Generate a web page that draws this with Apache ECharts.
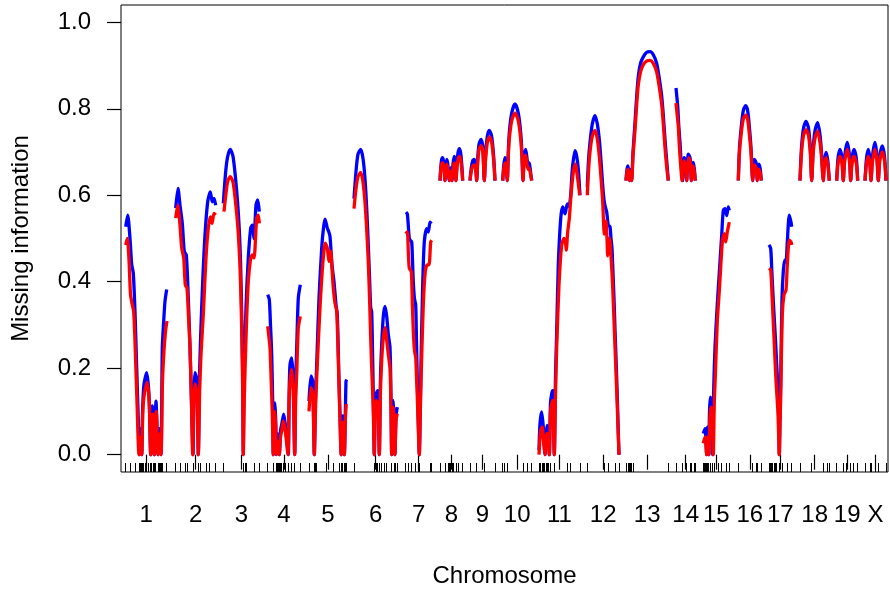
<!DOCTYPE html>
<html>
<head>
<meta charset="utf-8">
<script src="https://cdn.jsdelivr.net/npm/echarts@6/dist/echarts.min.js"></script>
<style>
html,body{margin:0;padding:0;background:#fff;}
#chart{width:890px;height:593px;}
</style>
</head>
<body>
<div id="chart"></div>
<script>
// Chromosome names and label positions (map units)
const chromNames = ["1","2","3","4","5","6","7","8","9","10","11","12","13","14","15","16","17","18","19","X"];
const chromCenters = [146.2,195.7,241.3,284,327.8,375.7,418.7,451.3,482.5,517.2,559.5,603.2,647.2,685.7,716.3,749.8,780.3,814.7,847.2,875.5];

// Marker positions (rug)
const markerPos = [
  125.7,130.7,135,139.3,140.3,141.7,142.5,143.3,145,146.7,148.3,150.7,151.7,153.3,154.3,155.7,158,159.3,160.3,161,162.7,166.7,
  175.7,180,185,187.3,193,198.3,200,206,209.3,215.7,
  223.3,243.3,245,246.7,254,259.3,
  267.7,273.3,276.3,277.7,278.7,279.7,280.7,281.7,283.3,285,288,291.7,294.7,300.3,
  309,314.3,315.5,316.7,326.7,333.3,339.3,341.7,342.3,344,345,346.7,
  354,374.3,376,377.3,379.3,381.7,384,386,391.7,394,395,397.3,
  405.7,408.3,411.7,415,418.3,419.3,430,431.7,
  440,445,448.3,449.3,450.7,452,453.3,456,458.3,462.7,
  470,476.7,484.3,495,
  502.7,504,507.3,523,527.3,531.7,
  539.3,540.7,542,543.3,544.7,546,547.3,548.7,550,554.3,567.3,570.7,580,
  587.3,604,608.3,615,619,
  626,628.3,629.5,630.7,631.7,633.3,668.3,
  676,682.7,686.7,690,691.3,694,695.3,
  703.3,704.3,705.3,706.7,707.3,708.7,710,712.7,714,718.3,721.7,726.7,729.3,
  738.3,752.7,756.7,757.3,761.3,
  769,770,771.3,772.7,774,775.3,776.7,779.3,782.7,787.7,791.7,
  800,811.7,823.3,827.3,829.3,
  836.7,843.3,846.7,850.7,853.3,857.7,
  865,870.7,871,875.7,878.3,886
];

// Missing information, entropy (blue), per chromosome: [position, value]
const entropyByChr = [
  [[125.7,0.527],[127.7,0.554],[130,0.50],[131.7,0.44],[133.3,0.42],[135,0.33],[136.7,0.2],[138.3,0.08],[139.3,0],[140.3,0.06],[141.7,0],[142.7,0.11],[144,0.163],[146.7,0.19],[148.7,0.15],[149.7,0.09],[150.7,0],[152.3,0.113],[154.3,0],[156,0.124],[158,0],[159.3,0.06],[161,0],[162.3,0.247],[163.7,0.309],[165,0.355],[166.7,0.382]],
  [[175.7,0.57],[178,0.616],[180,0.577],[182.3,0.535],[184.3,0.47],[186.3,0.462],[188,0.38],[190,0.25],[191.5,0.12],[193,0],[194,0.15],[195,0.19],[197,0.17],[198.3,0],[199.5,0.18],[200.7,0.278],[202.7,0.40],[205,0.508],[207.7,0.585],[210.3,0.608],[212.3,0.585],[214,0.593],[215.7,0.577]],
  [[223.3,0.581],[225.7,0.655],[227.7,0.69],[230.3,0.706],[233,0.69],[235.5,0.64],[237.7,0.58],[239.3,0.52],[240.5,0.45],[241.7,0.33],[242.7,0.18],[243.3,0],[244,0.17],[246,0.34],[248.3,0.455],[250.7,0.524],[252.3,0.531],[254,0.50],[256,0.577],[257.7,0.589],[259.3,0.562]],
  [[267.7,0.37],[269.3,0.359],[270.5,0.3],[271.7,0.232],[272.7,0.12],[273.3,0],[274.2,0.1],[275,0.12],[275.7,0.08],[276.3,0],[277.7,0.048],[279.3,0],[280.5,0.055],[281.7,0.07],[283.7,0.094],[285.3,0.07],[286.5,0.04],[288.3,0],[289.2,0.15],[290,0.209],[291.7,0.224],[293.3,0.17],[294.7,0],[295.7,0.17],[296.7,0.247],[298.3,0.362],[300.3,0.393]],
  [[309,0.124],[311,0.182],[312.7,0.17],[313.5,0.1],[314.3,0],[315.5,0.13],[316.7,0.209],[319,0.362],[321.7,0.478],[323.5,0.525],[325,0.545],[327.3,0.524],[328.7,0.516],[330,0.505],[332,0.439],[334,0.40],[336,0.347],[337.3,0.324],[339,0.17],[340,0.094],[341.2,0],[342.7,0.09],[344.3,0],[346,0.17],[346.7,0.174]],
  [[354,0.592],[356,0.655],[358,0.695],[360.7,0.706],[363,0.685],[365,0.638],[366.7,0.57],[368.3,0.485],[369.7,0.4],[370.7,0.34],[371.7,0.33],[372.7,0.217],[373.5,0.11],[374.3,0],[375.2,0.11],[376,0.14],[377.7,0.148],[378.6,0.09],[379.3,0],[380.5,0.18],[381.7,0.255],[383.3,0.32],[385,0.343],[386.7,0.32],[388.3,0.278],[390,0.248],[390.9,0.15],[391.7,0],[392.5,0.1],[393.3,0.125],[394.2,0.08],[395,0],[396,0.09],[397.3,0.11]],
  [[406,0.561],[407.3,0.557],[408.3,0.53],[409.3,0.50],[410.5,0.495],[411.7,0.492],[412.5,0.45],[413.3,0.40],[414.5,0.36],[415.7,0.347],[416.5,0.26],[417.3,0.171],[418.3,0.08],[419.3,0],[420.2,0.1],[421,0.21],[422.7,0.393],[424.3,0.492],[426.7,0.523],[428.3,0.515],[430,0.538],[431.3,0.534]],
  [[440,0.634],[440.8,0.665],[441.6,0.682],[442.7,0.687],[443.8,0.675],[445,0.634],[445.8,0.665],[446.8,0.683],[447.8,0.672],[449.3,0.634],[450,0.652],[451,0.664],[451.6,0.655],[452,0.634],[453,0.672],[454.3,0.69],[455.3,0.675],[456,0.634],[457,0.675],[458,0.698],[459.3,0.708],[460.7,0.698],[461.8,0.67],[462.7,0.634]],
  [[470,0.634],[471.2,0.662],[472.7,0.68],[474.3,0.683],[475.7,0.668],[476.7,0.634],[477.7,0.685],[479,0.718],[481,0.729],[482.8,0.714],[484.3,0.634],[485.5,0.69],[487.2,0.735],[489.3,0.75],[491.5,0.738],[493.5,0.695],[495,0.634]],
  [[502.7,0.634],[503.8,0.67],[505,0.687],[506.2,0.672],[507.3,0.634],[508.3,0.7],[509.3,0.745],[511.7,0.79],[515,0.811],[518.3,0.79],[520.7,0.745],[521.9,0.7],[523,0.634],[524,0.685],[525.7,0.706],[527.3,0.68],[528.3,0.672],[529.3,0.675],[530.5,0.655],[531.7,0.634]],
  [[539,0.01],[540,0.072],[541.7,0.099],[543.3,0.064],[545,0],[546.2,0.05],[547.3,0.068],[548.4,0.04],[549.3,0],[550.5,0.12],[551.7,0.141],[552.7,0.148],[553.5,0.08],[554.3,0],[555.5,0.18],[556.7,0.286],[558.3,0.439],[560.7,0.546],[562.7,0.573],[565,0.557],[567.3,0.58],[569,0.575],[570.7,0.6],[572.3,0.66],[575,0.703],[576.7,0.69],[578.3,0.66],[580,0.60]],
  [[587.3,0.619],[588.5,0.68],[590,0.722],[592.3,0.765],[595,0.784],[597.3,0.765],[599.3,0.729],[601,0.68],[602.7,0.622],[604,0.59],[605,0.576],[606.7,0.561],[607.7,0.54],[608.3,0.531],[610,0.527],[611,0.5],[612,0.477],[613,0.42],[614,0.362],[615,0.29],[616,0.225],[617.3,0.133],[618.2,0.06],[619,0]],
  [[626,0.634],[627,0.66],[628,0.668],[628.8,0.655],[629.5,0.634],[630.2,0.655],[631,0.66],[631.7,0.634],[633,0.7],[635,0.768],[636.7,0.83],[638.3,0.875],[640.5,0.905],[643.3,0.92],[646.5,0.93],[650,0.932],[653.3,0.925],[656.7,0.905],[659.3,0.87],[661.7,0.829],[663.3,0.785],[665,0.729],[666.7,0.68],[668.3,0.634]],
  [[676,0.848],[677.7,0.806],[678.8,0.76],[680,0.722],[681,0.68],[681.7,0.653],[682.7,0.634],[683.3,0.67],[684,0.687],[685.3,0.68],[686,0.665],[686.7,0.634],[687.4,0.67],[688.3,0.695],[690,0.687],[690.7,0.665],[691.3,0.634],[692.2,0.665],[693.3,0.676],[694.4,0.66],[695.3,0.634]],
  [[703.3,0.049],[705,0.06],[706,0.03],[706.7,0],[707.3,0.064],[708,0.04],[708.7,0],[709.5,0.1],[710.3,0.133],[711.3,0.125],[712,0.08],[712.7,0],[713.8,0.16],[715,0.248],[716.7,0.324],[718.3,0.385],[720,0.446],[721.7,0.508],[723.3,0.565],[725,0.569],[726.7,0.553],[728.3,0.573],[729.3,0.565]],
  [[738.3,0.634],[739.5,0.71],[741.7,0.768],[743.5,0.798],[745.7,0.807],[747.7,0.795],[749.3,0.76],[751,0.71],[752.7,0.634],[753.5,0.668],[754.3,0.683],[755.2,0.68],[756,0.676],[756.7,0.66],[757.3,0.634],[758.2,0.66],[759,0.672],[760.3,0.66],[761.3,0.634]],
  [[769,0.485],[770.7,0.477],[771.7,0.431],[773.3,0.355],[775,0.286],[776.7,0.209],[778,0.148],[778.8,0.07],[779.3,0],[780,0.09],[780.7,0.171],[782,0.362],[783.3,0.424],[784.7,0.45],[786,0.446],[787.3,0.492],[789.3,0.554],[791,0.538],[791.7,0.527]],
  [[800,0.634],[801.5,0.71],[803.5,0.755],[806,0.771],[808.5,0.755],[810.3,0.71],[811.7,0.634],[813.2,0.71],[815.3,0.753],[817.7,0.768],[820,0.74],[821.5,0.7],[823.3,0.634],[824.3,0.675],[826,0.699],[827.8,0.68],[829.3,0.634]],
  [[836.7,0.634],[838,0.685],[840,0.706],[842,0.685],[843.3,0.634],[844.7,0.69],[847.3,0.722],[849.5,0.69],[850.7,0.634],[852,0.685],[854,0.706],[856.3,0.685],[857.7,0.634]],
  [[865,0.634],[866.5,0.685],[868.3,0.706],[869.8,0.685],[871,0.634],[872.5,0.69],[875,0.722],[877,0.69],[878.3,0.634],[879.8,0.69],[882.3,0.714],[884.5,0.69],[886,0.634]]
];

// Missing information, variance (red), per chromosome: [position, value]
const varianceByChr = [
  [[125.7,0.485],[127.3,0.50],[129,0.45],[130.5,0.37],[132,0.35],[133.7,0.33],[135.3,0.24],[137,0.12],[139,0],[140.3,0.04],[141.7,0],[142.8,0.1],[144.3,0.14],[147.3,0.167],[149.3,0.117],[150.7,0],[152.7,0.094],[154.3,0],[156.3,0.10],[158,0],[159.3,0.048],[161,0],[162.5,0.17],[164,0.24],[165.5,0.285],[167,0.309]],
  [[175.7,0.547],[177.7,0.577],[179.7,0.539],[181.7,0.478],[183.7,0.455],[185.3,0.393],[187,0.385],[188.5,0.32],[190,0.247],[191.5,0.12],[192.7,0],[194,0.13],[195,0.163],[197,0.14],[198.3,0],[199.7,0.15],[201,0.232],[203.3,0.324],[206,0.455],[208.3,0.524],[210.3,0.55],[212,0.535],[214,0.558],[215.7,0.554]],
  [[224,0.562],[226,0.605],[228,0.635],[230.3,0.643],[233,0.63],[235.5,0.585],[237.7,0.53],[239.3,0.47],[240.5,0.4],[241.7,0.29],[242.7,0.15],[243.3,0],[244.3,0.13],[246.3,0.29],[248.3,0.4],[250.7,0.455],[252.3,0.462],[254,0.455],[256.7,0.547],[258.3,0.554],[259.3,0.535]],
  [[267.7,0.297],[269,0.27],[270,0.247],[271.2,0.17],[272.3,0.094],[273.3,0],[274.2,0.08],[275,0.10],[275.8,0.06],[276.3,0],[278,0.03],[279.3,0],[280.5,0.04],[281.7,0.055],[283.3,0.078],[285.3,0.055],[286.5,0.03],[288,0],[289,0.12],[290,0.17],[291.7,0.197],[293.3,0.14],[294.7,0],[295.7,0.13],[296.7,0.186],[298.3,0.293],[300.3,0.32]],
  [[309,0.10],[311,0.155],[312.7,0.14],[313.5,0.08],[314.3,0],[315.7,0.12],[317.3,0.209],[320,0.339],[322.7,0.439],[325.3,0.489],[327.3,0.478],[329,0.447],[330.7,0.47],[332,0.43],[333.3,0.385],[335,0.35],[336.7,0.332],[338.3,0.22],[340,0.078],[341.2,0],[342.7,0.075],[344.3,0],[345.5,0.09],[346.3,0.117]],
  [[354,0.569],[356,0.615],[358,0.643],[360.7,0.653],[363,0.63],[365,0.584],[366.7,0.52],[368.3,0.446],[369.7,0.35],[370.7,0.27],[371.7,0.2],[372.7,0.14],[373.5,0.08],[374.3,0],[375.2,0.1],[376,0.125],[377.7,0.12],[378.6,0.07],[379.3,0],[380.5,0.15],[381.7,0.217],[383.3,0.27],[385,0.294],[386.7,0.265],[388.3,0.232],[390,0.2],[390.9,0.12],[391.7,0],[392.5,0.09],[393.3,0.11],[394.2,0.06],[395,0],[396,0.08],[397.3,0.095]],
  [[405.7,0.511],[407.3,0.515],[408.3,0.47],[409.3,0.431],[411.3,0.424],[412.3,0.35],[413.3,0.286],[414.5,0.24],[415.7,0.225],[416.5,0.18],[417.3,0.133],[418.3,0.06],[419.3,0],[420.3,0.1],[421.3,0.194],[423.3,0.347],[425.3,0.424],[427.3,0.439],[429,0.439],[430.7,0.492],[431.7,0.496]],
  [[440,0.634],[440.8,0.66],[441.6,0.672],[442.7,0.675],[443.8,0.665],[445,0.634],[445.8,0.658],[446.8,0.672],[447.8,0.662],[449.3,0.634],[450,0.648],[451,0.655],[451.6,0.648],[452,0.634],[453,0.662],[454.3,0.675],[455.3,0.664],[456,0.634],[457,0.665],[458,0.682],[459.3,0.69],[460.7,0.682],[461.8,0.66],[462.7,0.634]],
  [[470,0.634],[471.2,0.655],[472.7,0.668],[474.3,0.67],[475.7,0.658],[476.7,0.634],[477.7,0.675],[479,0.705],[481,0.715],[482.8,0.702],[484.3,0.634],[485.5,0.68],[487.2,0.72],[489.3,0.735],[491.5,0.724],[493.5,0.685],[495,0.634]],
  [[502.7,0.634],[503.8,0.662],[505,0.675],[506.2,0.662],[507.3,0.634],[508.3,0.69],[509.3,0.73],[511.7,0.772],[515,0.79],[518.3,0.772],[520.7,0.73],[521.9,0.69],[523,0.634],[524.2,0.678],[525.7,0.693],[527.3,0.668],[528.3,0.66],[529.3,0.662],[530.5,0.648],[531.7,0.634]],
  [[539,0],[540.7,0.057],[542.3,0.064],[543.7,0.026],[545,0],[546.2,0.04],[547.3,0.049],[548.4,0.03],[549.3,0],[550.5,0.1],[551.7,0.118],[552.7,0.125],[553.5,0.06],[554.3,0],[555.5,0.14],[556.7,0.248],[559,0.393],[561.7,0.485],[564,0.50],[565.5,0.49],[566.3,0.473],[567.7,0.515],[569.3,0.546],[571,0.60],[573.3,0.653],[575.3,0.672],[577.7,0.638],[579.7,0.60]],
  [[587.3,0.60],[588.5,0.655],[590,0.70],[592.3,0.737],[595,0.75],[597.3,0.73],[599.3,0.69],[601,0.64],[602.7,0.585],[603.5,0.54],[604.3,0.51],[605,0.53],[606,0.54],[607,0.5],[607.7,0.46],[608.5,0.48],[609.3,0.50],[610.2,0.49],[611,0.46],[612,0.42],[613,0.37],[614,0.31],[615,0.25],[616,0.19],[617.3,0.11],[618.2,0.05],[619,0]],
  [[626,0.634],[627,0.655],[628,0.66],[628.8,0.65],[629.5,0.634],[630.2,0.65],[631,0.655],[631.7,0.634],[633,0.69],[635,0.75],[636.7,0.81],[638.3,0.855],[640.5,0.885],[643.3,0.902],[646.5,0.91],[650,0.912],[653.3,0.905],[656.7,0.885],[659.3,0.85],[661.7,0.81],[663.3,0.765],[665,0.71],[666.7,0.665],[668.3,0.634]],
  [[676,0.813],[677.2,0.785],[678.3,0.76],[679.2,0.72],[680,0.69],[681,0.66],[682,0.634],[683,0.665],[684,0.68],[685.3,0.668],[686,0.655],[686.7,0.634],[687.5,0.665],[688.7,0.687],[690.3,0.676],[690.9,0.655],[691.3,0.634],[692.2,0.658],[693.3,0.668],[694.4,0.652],[695.3,0.634]],
  [[703.3,0.026],[705,0.041],[706.7,0],[708,0.041],[709,0],[709.8,0.08],[710.7,0.11],[712,0.102],[712.7,0.05],[713.3,0],[714.3,0.12],[715.3,0.179],[717.3,0.309],[719.3,0.378],[721,0.446],[722.7,0.50],[724.3,0.511],[725.7,0.492],[727.3,0.515],[729.3,0.538]],
  [[738.3,0.634],[739.5,0.7],[741.7,0.752],[743.5,0.778],[745.7,0.785],[747.7,0.775],[749.3,0.742],[751,0.7],[752.7,0.634],[753.5,0.658],[754.3,0.67],[755.2,0.668],[756,0.664],[756.7,0.65],[757.3,0.634],[758.2,0.652],[759,0.66],[760.3,0.65],[761.3,0.634]],
  [[769,0.431],[770.7,0.427],[772,0.37],[774,0.27],[776,0.171],[778,0.095],[779.3,0],[780,0.07],[780.7,0.133],[782.3,0.324],[784,0.37],[786,0.381],[787.3,0.439],[789.3,0.496],[791,0.492],[791.7,0.485]],
  [[800,0.634],[801.5,0.698],[803.5,0.738],[806,0.752],[808.5,0.738],[810.3,0.698],[811.7,0.634],[813.2,0.698],[815.3,0.735],[817.7,0.748],[820,0.722],[821.5,0.688],[823.3,0.634],[824.3,0.666],[826,0.687],[827.8,0.67],[829.3,0.634]],
  [[836.7,0.634],[838,0.673],[840,0.69],[842,0.673],[843.3,0.634],[844.7,0.678],[847.3,0.706],[849.5,0.678],[850.7,0.634],[852,0.673],[854,0.69],[856.3,0.673],[857.7,0.634]],
  [[865,0.634],[866.5,0.673],[868.3,0.69],[869.8,0.673],[871,0.634],[872.5,0.678],[875,0.706],[877,0.678],[878.3,0.634],[879.8,0.68],[882.3,0.70],[884.5,0.68],[886,0.634]]
];

const yTicks = [0, 0.2, 0.4, 0.6, 0.8, 1.0];

function joinChr(list) {
  const out = [];
  list.forEach(seg => {
    seg.forEach(p => out.push(p));
    out.push([seg[seg.length - 1][0] + 0.5, null]);
  });
  return out;
}

const FONT = "'Liberation Sans', Arial, Helvetica, sans-serif";
const chart = echarts.init(document.getElementById('chart'), null, {renderer: 'canvas'});
chart.setOption({
  animation: false,
  backgroundColor: '#ffffff',
  grid: {left: 121, right: 2, top: 5, bottom: 118, show: true, borderColor: '#000', borderWidth: 1, backgroundColor: 'transparent'},
  xAxis: [{
    type: 'value', min: 121, max: 888, position: 'bottom',
    axisLine: {show: false},
    splitLine: {show: false},
    axisTick: {show: true, customValues: chromCenters, length: 15, lineStyle: {color: '#000', width: 1.2}},
    axisLabel: {
      customValues: chromCenters, margin: 31, fontSize: 24, color: '#000', fontFamily: FONT,
      formatter: function (v) {
        let best = 0, d = Infinity;
        chromCenters.forEach((c, i) => { if (Math.abs(c - v) < d) { d = Math.abs(c - v); best = i; } });
        return chromNames[best];
      }
    },
    name: 'Chromosome', nameLocation: 'middle', nameGap: 92,
    nameTextStyle: {fontSize: 24, color: '#000', fontFamily: FONT}
  }, {
    type: 'value', min: 121, max: 888, position: 'bottom',
    axisLine: {show: false},
    splitLine: {show: false},
    axisTick: {show: true, inside: true, customValues: markerPos, length: 9, lineStyle: {color: '#000', width: 1}},
    axisLabel: {show: false}
  }],
  yAxis: {
    type: 'value', min: -0.04, max: 1.04,
    axisLine: {show: false},
    splitLine: {show: false},
    axisTick: {show: true, customValues: yTicks, length: 14, lineStyle: {color: '#000', width: 1.2}},
    axisLabel: {customValues: yTicks, margin: 30, fontSize: 24, color: '#000', fontFamily: FONT,
      formatter: v => v.toFixed(1)},
    name: 'Missing information', nameLocation: 'middle', nameGap: 88, nameRotate: 90,
    nameTextStyle: {fontSize: 24, color: '#000', fontFamily: FONT}
  },
  series: [{
    name: 'entropy', type: 'line', xAxisIndex: 0, data: joinChr(entropyByChr),
    showSymbol: false, symbol: 'none', smooth: 0.25, connectNulls: false,
    lineStyle: {color: '#0000ff', width: 3.3}
  }, {
    name: 'variance', type: 'line', xAxisIndex: 0, data: joinChr(varianceByChr),
    showSymbol: false, symbol: 'none', smooth: 0.25, connectNulls: false,
    lineStyle: {color: '#ff0000', width: 3.3}
  }]
});
</script>
</body>
</html>
